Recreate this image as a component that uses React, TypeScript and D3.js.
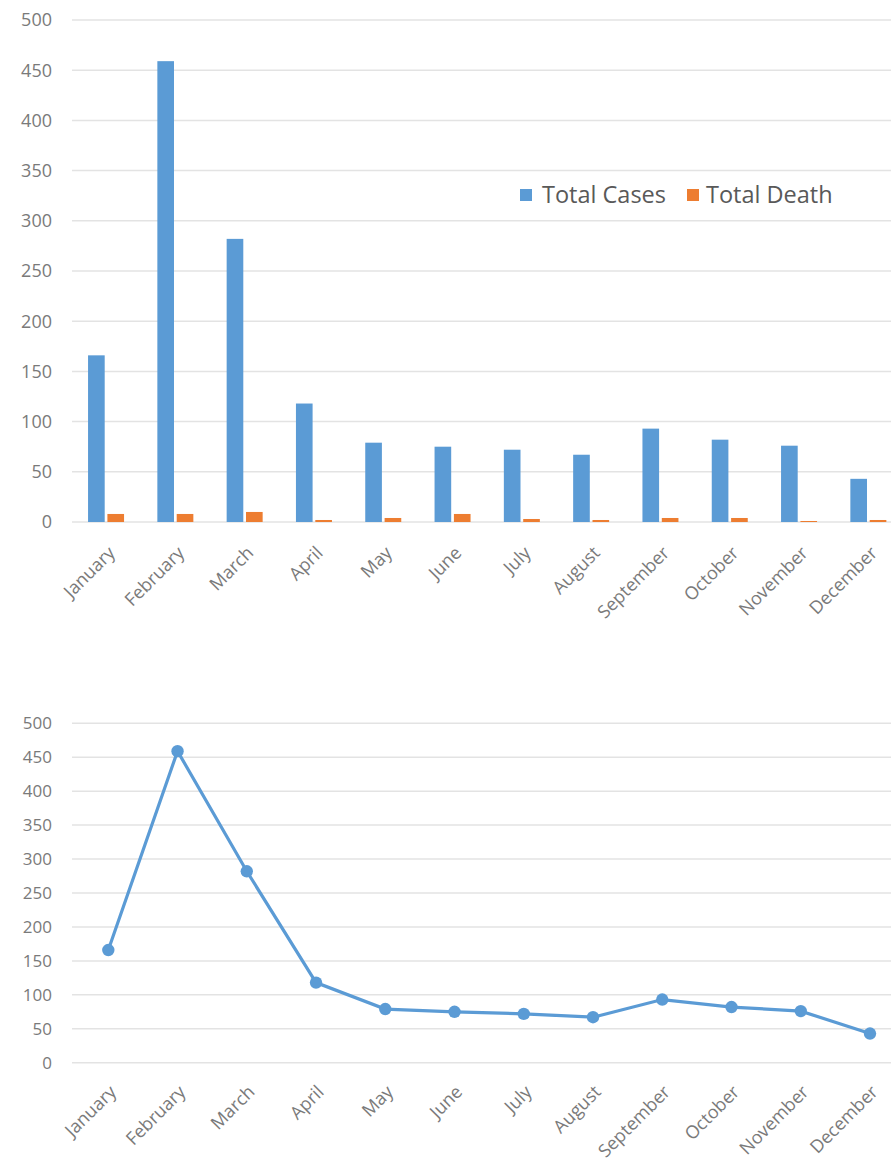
import React from "react";
import * as d3 from "d3";

const months = ["January","February","March","April","May","June","July","August","September","October","November","December"];
const totalCases = [166, 459, 282, 118, 79, 75, 72, 67, 93, 82, 76, 43];
const totalDeath = [8, 8, 10, 2, 4, 8, 3, 2, 4, 4, 1, 2];
const yTicks = [0, 50, 100, 150, 200, 250, 300, 350, 400, 450, 500];
const seriesNames = ["Total Cases", "Total Death"];
const colors = ["#5b9bd5", "#ed7d31"];

const W = 891, H = 1164;
const FONT = "'Open Sans', Lato, sans-serif";
const LABEL = "#7a7a7a";
const GRID = "#e3e3e3";

export default function App() {
  const x = d3.scaleBand<string>().domain(months).range([71.4, 903]).paddingInner(0).paddingOuter(0);
  const bw = x.bandwidth();
  const sub = d3.scaleBand<string>().domain(seriesNames).range([bw / 2 - 18, bw / 2 + 18]).paddingInner(0.14);
  const x2 = d3.scalePoint<string>().domain(months).range([108.3, 870]);

  const y1 = d3.scaleLinear().domain([0, 500]).range([522, 20]);
  const y2 = d3.scaleLinear().domain([0, 500]).range([1062.7, 723.3]);

  const line = d3.line<number>()
    .x((_, i) => x2(months[i])!)
    .y((d) => y2(d));

  return (
    <svg width={W} height={H} style={{ position: "absolute", left: 0, top: 0, background: "#fff" }} fontFamily={FONT}>
      {/* Bar chart */}
      <g>
        {yTicks.map((t) => (
          <g key={"g1" + t}>
            <line x1={72} x2={W} y1={y1(t)} y2={y1(t)} stroke={GRID} strokeWidth={1.5} />
            <text x={52} y={y1(t)} dy="0.35em" textAnchor="end" fontSize={18} fill={LABEL}>{t}</text>
          </g>
        ))}
        {months.map((m, i) => (
          <g key={"b" + m} transform={`translate(${x(m)},0)`}>
            <rect x={sub("Total Cases")} y={y1(totalCases[i])} width={sub.bandwidth()} height={y1(0) - y1(totalCases[i])} fill={colors[0]} />
            <rect x={sub("Total Death")} y={y1(totalDeath[i])} width={sub.bandwidth()} height={y1(0) - y1(totalDeath[i])} fill={colors[1]} />
          </g>
        ))}
        {months.map((m) => {
          const cx = x(m)! + bw / 2 + 10;
          const cy = 554;
          return (
            <text key={"xl1" + m} transform={`translate(${cx},${cy}) rotate(-45)`} textAnchor="end" fontSize={18} fill={LABEL}>{m}</text>
          );
        })}
        {/* Legend */}
        <g transform="translate(520,195)">
          <rect x={0} y={-6} width={12} height={12} fill={colors[0]} />
          <text x={22} y={0} dy="0.35em" fontSize={23.5} fill="#595959">{seriesNames[0]}</text>
          <rect x={167} y={-6} width={12} height={12} fill={colors[1]} />
          <text x={186} y={0} dy="0.35em" fontSize={23.5} fill="#595959">{seriesNames[1]}</text>
        </g>
      </g>

      {/* Line chart */}
      <g>
        {yTicks.map((t) => (
          <g key={"g2" + t}>
            <line x1={72} x2={W} y1={y2(t)} y2={y2(t)} stroke={GRID} strokeWidth={1.5} />
            <text x={52} y={y2(t)} dy="0.35em" textAnchor="end" fontSize={17} fill={LABEL}>{t}</text>
          </g>
        ))}
        <path d={line(totalCases)!} fill="none" stroke={colors[0]} strokeWidth={3.2} />
        {totalCases.map((v, i) => (
          <circle key={"c" + i} cx={x2(months[i])!} cy={y2(v)} r={6.2} fill={colors[0]} />
        ))}
        {months.map((m) => {
          const cx = x2(m)! + 9;
          const cy = 1093;
          return (
            <text key={"xl2" + m} transform={`translate(${cx},${cy}) rotate(-45)`} textAnchor="end" fontSize={18} fill={LABEL}>{m}</text>
          );
        })}
      </g>
    </svg>
  );
}
